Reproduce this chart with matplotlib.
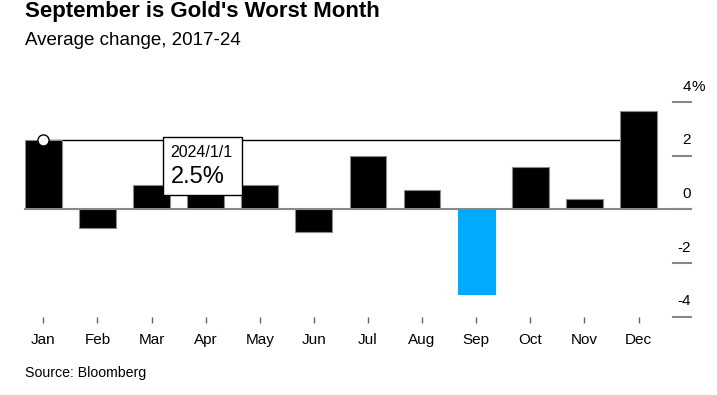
import numpy as np
import matplotlib.pyplot as plt
from matplotlib.patches import Rectangle

plt.rcParams['font.family'] = ['Liberation Sans', 'DejaVu Sans']

months = ['Jan', 'Feb', 'Mar', 'Apr', 'May', 'Jun',
          'Jul', 'Aug', 'Sep', 'Oct', 'Nov', 'Dec']
avg_change = [2.58, -0.68, 0.9, 0.85, 0.9, -0.83,
              1.99, 0.71, -3.17, 1.59, 0.38, 3.65]
yticks = [4, 2, 0, -2, -4]
hover_date = '2024/1/1'
hover_label = '2.5%'
hover_idx = 0

W, H = 717, 395
fig = plt.figure(figsize=(W / 100, H / 100), dpi=100)
ax = fig.add_axes([25 / W, 1 - 316.7 / H, (691 - 25) / W, (316.7 - 102) / H])

x = np.arange(len(months))
colors = ['#00aaff' if m == 'Sep' else 'black' for m in months]
edges = ['#00aaff' if m == 'Sep' else '#8a8a8a' for m in months]

# hover line behind bars
ax.plot([x[0], x[-1]], [avg_change[hover_idx]] * 2, color='black', lw=1, zorder=1)
ax.bar(x, avg_change, width=0.68, color=colors, edgecolor=edges, linewidth=0.8, zorder=2)
ax.plot([-0.338, 11.97], [0, 0], color='#888888', lw=1.5, zorder=3, clip_on=False)

ax.set_xlim(-0.338, 11.97)
ax.set_ylim(-4, 4)

for s in ax.spines.values():
    s.set_visible(False)

ax.set_xticks(x)
ax.set_xticklabels(months, fontsize=11)
ax.tick_params(axis='x', direction='out', length=4.5, width=1, color='#666666', pad=7)
ax.set_yticks([])

# right-side ticks: short lines with labels above
tick_x0 = 11.64
for v in yticks:
    ax.plot([tick_x0, 11.97], [v, v], color='#888888', lw=1.5, clip_on=False, zorder=3)
    lab = '-' + str(abs(v)) if v < 0 else str(v)
    ax.annotate(lab, xy=(11.97, v), xytext=(0, 6), textcoords='offset points',
                ha='right', va='bottom', fontsize=11, annotation_clip=False)
ax.annotate('%', xy=(11.97, yticks[0]), xytext=(0, 6), textcoords='offset points',
            ha='left', va='bottom', fontsize=11, annotation_clip=False)

# hover marker and tooltip
ax.plot(x[hover_idx], avg_change[hover_idx], 'o', ms=8, mfc='white', mec='black',
        mew=1, zorder=5, clip_on=False)
ax.add_patch(Rectangle((2.207, 0.52), 1.46, 2.16, fc='white', ec='black', lw=1, zorder=6))
ax.text(2.35, 2.1, hover_date, fontsize=11.5, ha='left', va='center', zorder=7)
ax.text(2.35, 1.22, hover_label, fontsize=17, ha='left', va='center', zorder=7)

fig.text(25 / W, 1 - 17 / H, "September is Gold's Worst Month", fontsize=16,
         fontweight='bold', ha='left', va='baseline')
fig.text(25 / W, 1 - 45 / H, 'Average change, 2017-24', fontsize=13.5,
         ha='left', va='baseline')
fig.text(25 / W, 1 - 377 / H, 'Source: Bloomberg', fontsize=10.2,
         ha='left', va='baseline')

fig.savefig('out.png', dpi=100)
